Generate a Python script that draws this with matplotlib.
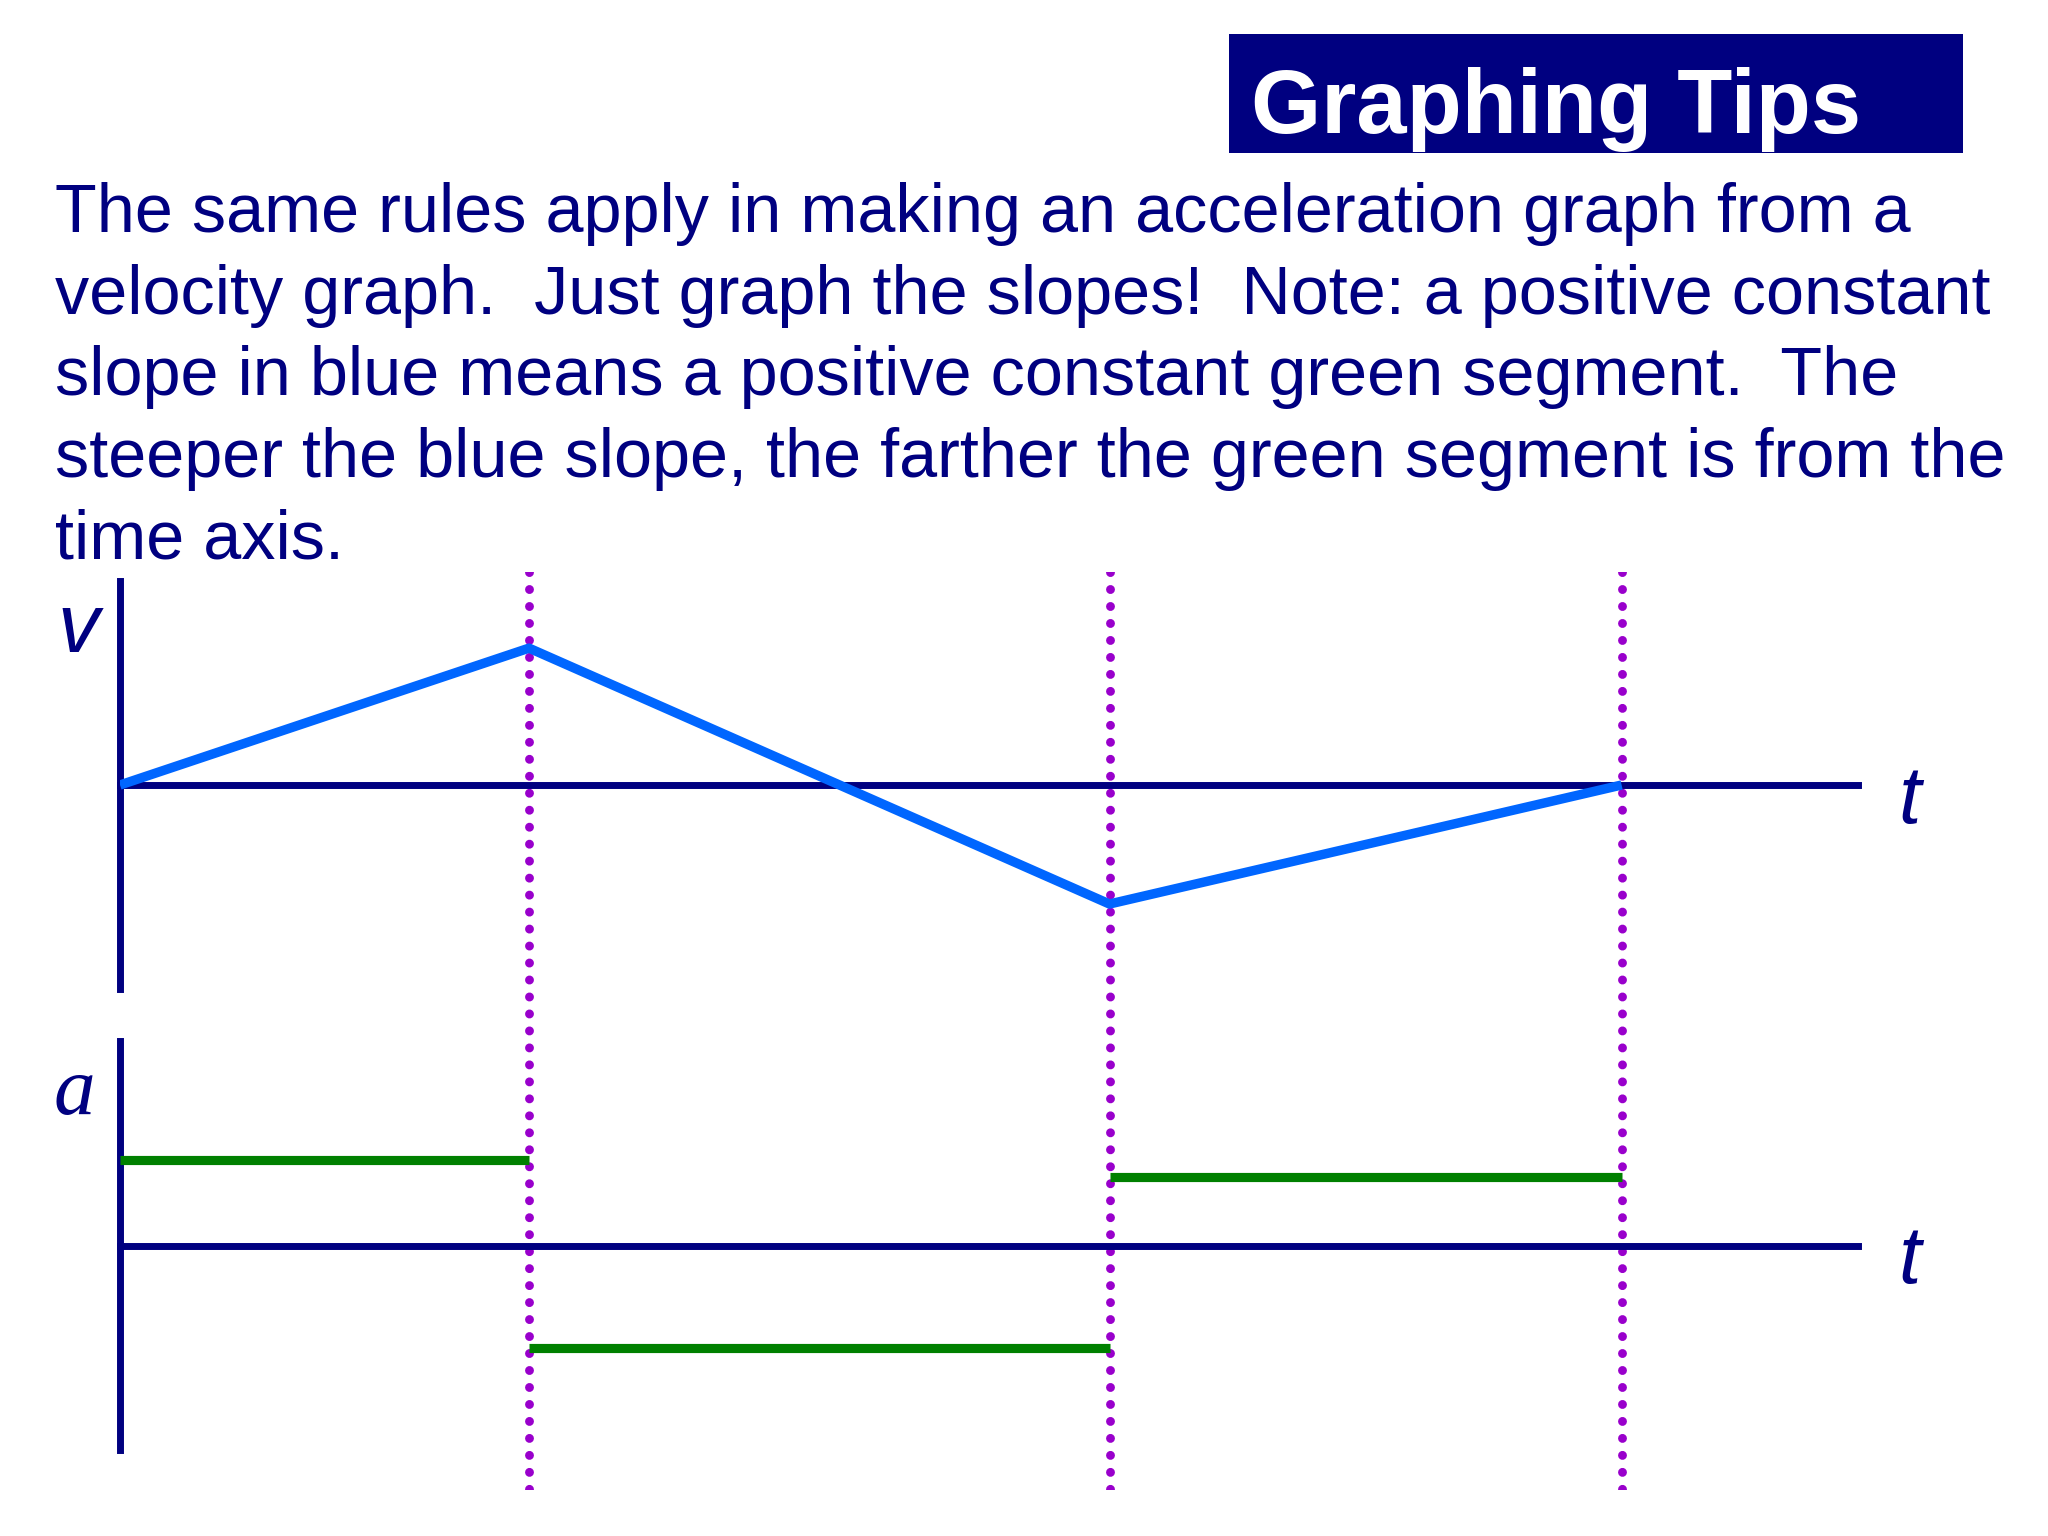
import matplotlib
matplotlib.use('Agg')
import matplotlib.pyplot as plt
from matplotlib.patches import Rectangle

# velocity graph corners (time, velocity) and the matching acceleration levels
t_breaks = [0, 3.53, 8.54, 12.96]
v_values = [0, 1.15, -1.0, 0]
a_values = [0.85, -1.02, 0.68]
t_end = 15

title = 'Graphing Tips'
body_lines = [
    'The same rules apply in making an acceleration graph from a',
    'velocity graph.  Just graph the slopes!  Note: a positive constant',
    'slope in blue means a positive constant green segment.  The',
    'steeper the blue slope, the farther the green segment is from the',
    'time axis.',
]

W, H = 2048, 1536
NAVY = '#000080'
BLUE = '#0066ff'
GREEN = '#008000'
PURPLE = '#9900cc'


def fx(x):
    return x / W


def fy(y):
    return 1 - y / H


fig = plt.figure(figsize=(W / 100, H / 100), dpi=100)
fig.patch.set_facecolor('white')

# title box
fig.patches.append(Rectangle((fx(1229), fy(153)), fx(1963) - fx(1229), fy(34) - fy(153),
                             transform=fig.transFigure, facecolor=NAVY, edgecolor='none'))
fig.text(fx(1251), fy(133), title, color='white', fontsize=65, fontweight='bold',
         family='Liberation Sans', va='baseline', ha='left')

for i, line in enumerate(body_lines):
    fig.text(fx(55), fy(232 + i * 81.6), line, color=NAVY, fontsize=49.2,
             family='Liberation Sans', va='baseline', ha='left')

left, width = fx(120), fx(1858) - fx(120)

# dotted guide lines through both graphs (drawn top to bottom)
ax_g = fig.add_axes([left, fy(1490), width, fy(572) - fy(1490)], zorder=0)
ax_g.set_xlim(0, t_end)
ax_g.set_ylim(0, 1)
ax_g.axis('off')
ax_g.vlines(t_breaks[1:], 1, 0, colors=PURPLE, linewidth=6.4,
            linestyles=[(0, (0.01, 1.9))], capstyle='round')

lw_axis = 5.0


def style_axes(ax, ylim):
    ax.set_xlim(0, t_end)
    ax.set_ylim(*ylim)
    ax.set_facecolor('none')
    for s in ['top', 'right']:
        ax.spines[s].set_visible(False)
    ax.spines['bottom'].set_position(('data', 0))
    for s in ['left', 'bottom']:
        ax.spines[s].set_color(NAVY)
        ax.spines[s].set_linewidth(lw_axis)
    ax.set_xticks([])
    ax.set_yticks([])


ax_v = fig.add_axes([left, fy(989), width, fy(581) - fy(989)], zorder=1)
style_axes(ax_v, (-1.714, 1.714))
ax_v.plot(t_breaks, v_values, color=BLUE, linewidth=6.8, solid_joinstyle='round',
          solid_capstyle='butt', zorder=3)

ax_a = fig.add_axes([left, fy(1450), width, fy(1041) - fy(1450)], zorder=1)
style_axes(ax_a, (-2.04, 2.04))
ax_a.hlines(a_values, t_breaks[:-1], t_breaks[1:], colors=GREEN, linewidth=6.6, zorder=3)

# axis letters
fig.text(fx(78), fy(630), 'v', color=NAVY, fontsize=60, style='italic',
         family='Liberation Sans', ha='center', va='center')
fig.text(fx(74), fy(1094), 'a', color=NAVY, fontsize=60, style='italic',
         family='Liberation Serif', ha='center', va='center')
fig.text(fx(1910), fy(802), 't', color=NAVY, fontsize=58, style='italic',
         family='Liberation Sans', ha='center', va='center')
fig.text(fx(1910), fy(1262), 't', color=NAVY, fontsize=58, style='italic',
         family='Liberation Sans', ha='center', va='center')

fig.savefig('out.png', dpi=100)
